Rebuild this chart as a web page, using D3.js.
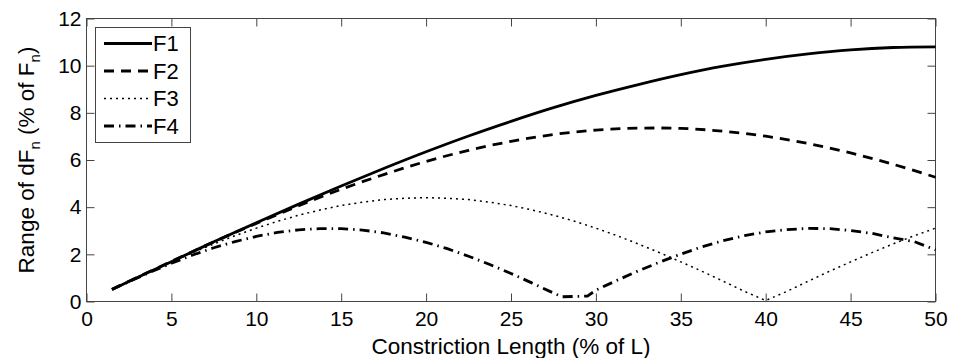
<!DOCTYPE html>
<html>
<head>
<meta charset="utf-8">
<script src="https://cdn.jsdelivr.net/npm/d3@7"></script>
<style>
  body { margin: 0; background: #fff; }
  svg { font-family: "Liberation Sans", Arial, sans-serif; }
</style>
</head>
<body>
<div id="chart"></div>
<script>
// values (x = constriction length in % of L)
var f1X = [1.5, 5, 7.5, 10, 12.5, 15, 17.5, 20, 22.5, 25, 27.5, 30, 32.5, 35, 37.5, 40, 42.5, 45, 47.5, 50];
var f1Y = [0.51, 1.69, 2.53, 3.34, 4.13, 4.90, 5.64, 6.35, 7.02, 7.64, 8.22, 8.74, 9.20, 9.62, 9.98, 10.27, 10.50, 10.67, 10.77, 10.80];

var f2X = [1.5, 5, 7.5, 10, 12.5, 15, 17.5, 20, 22.5, 25, 27.5, 30, 32.5, 35, 37.5, 40, 42.5, 45, 47.5, 50];
var f2Y = [0.52, 1.70, 2.53, 3.31, 4.06, 4.76, 5.38, 5.94, 6.41, 6.79, 7.08, 7.27, 7.35, 7.34, 7.22, 7.01, 6.70, 6.30, 5.82, 5.27];

var f3X = [1.5, 2.5, 3.75, 5, 6.25, 7.5, 8.75, 10, 11.25, 12.5, 13.75, 15, 16.25, 17.5, 18.75, 20,
           21.25, 22.5, 23.75, 25, 26.25, 27.5, 28.75, 30, 31.25, 32.5, 33.75, 35, 36.25, 37.5, 38.75, 40,
           41.25, 42.5, 43.75, 45, 46.25, 47.5, 48.75, 50];
var f3Y = [0.52, 0.86, 1.28, 1.68, 2.07, 2.44, 2.79, 3.11, 3.40, 3.66, 3.88, 4.07, 4.21, 4.32, 4.38, 4.40,
           4.38, 4.32, 4.21, 4.07, 3.88, 3.66, 3.40, 3.11, 2.79, 2.44, 2.07, 1.68, 1.28, 0.86, 0.43, 0.04,
           0.43, 0.86, 1.28, 1.68, 2.07, 2.44, 2.79, 3.11];

var f4X = [1.5, 2.5, 3.75, 5, 6.25, 7.5, 8.75, 10, 11.25, 12.5, 13.75, 15, 16.25, 17.5, 18.75, 20,
           21.25, 22.5, 23.75, 25, 26.25, 27.5, 28, 29.5, 30, 31.25, 32.5, 33.75, 35, 36.25, 37.5, 38.75, 40,
           41.25, 42.5, 43.75, 45, 46.25, 47.5, 48.75, 50];
var f4Y = [0.51, 0.84, 1.24, 1.62, 1.97, 2.28, 2.54, 2.76, 2.93, 3.04, 3.09, 3.09, 3.03, 2.91, 2.73, 2.51,
           2.24, 1.92, 1.57, 1.19, 0.78, 0.36, 0.20, 0.23, 0.48, 0.90, 1.30, 1.67, 2.01, 2.32, 2.58, 2.79, 2.95,
           3.05, 3.10, 3.09, 3.01, 2.89, 2.70, 2.54, 2.19];

var seriesNames = ["F1", "F2", "F3", "F4"];
var xTicks = [0, 5, 10, 15, 20, 25, 30, 35, 40, 45, 50];
var yTicks = [0, 2, 4, 6, 8, 10, 12];

var margin = {top: 18.5, right: 23.5, bottom: 56.5, left: 86.5},
    width = 959 - margin.left - margin.right,
    height = 358 - margin.top - margin.bottom;

var x = d3.scaleLinear().domain([0, 50]).range([0, width]);
var y = d3.scaleLinear().domain([0, 12]).range([height, 0]);

var svg = d3.select("#chart").append("svg")
    .attr("width", 959)
    .attr("height", 358);

var g = svg.append("g")
    .attr("transform", "translate(" + margin.left + "," + margin.top + ")");

// styles per series
var styles = [
  {width: 2.8, dash: null},
  {width: 2.8, dash: "10,7"},
  {width: 1.5, dash: "2,4"},
  {width: 2.8, dash: "10,5,1.5,5"}
];

var allX = [f1X, f2X, f3X, f4X];
var allY = [f1Y, f2Y, f3Y, f4Y];

var line = d3.line()
    .x(function(d) { return x(d[0]); })
    .y(function(d) { return y(d[1]); });

var smooth = d3.line()
    .curve(d3.curveCatmullRom)
    .x(function(d) { return x(d[0]); })
    .y(function(d) { return y(d[1]); });

// axes, ticks pointing inward on all four sides
var tickLen = 8;
var axisColor = "#444";

g.append("g")
    .attr("transform", "translate(0," + height + ")")
    .call(d3.axisBottom(x).tickValues(xTicks).tickSizeInner(-tickLen).tickSizeOuter(0).tickPadding(10));
g.append("g")
    .call(d3.axisLeft(y).tickValues(yTicks).tickSizeInner(-tickLen).tickSizeOuter(0).tickPadding(5));
g.append("g")
    .call(d3.axisTop(x).tickValues(xTicks).tickSizeInner(-tickLen).tickSizeOuter(0).tickFormat(""));
g.append("g")
    .attr("transform", "translate(" + width + ",0)")
    .call(d3.axisRight(y).tickValues(yTicks).tickSizeInner(-tickLen).tickSizeOuter(0).tickFormat(""));

g.selectAll(".domain").remove();
g.selectAll(".tick line").attr("stroke", axisColor);
g.selectAll(".tick text")
    .attr("fill", "#000")
    .style("font-size", "21px")
    .style("font-family", "Liberation Sans, Arial, sans-serif");

g.append("rect")
    .attr("x", 0).attr("y", 0)
    .attr("width", width).attr("height", height)
    .attr("fill", "none")
    .attr("stroke", axisColor)
    .attr("stroke-width", 1);

// the curves
for (var i = 0; i < 4; i++) {
  var pts = d3.zip(allX[i], allY[i]);
  g.append("path")
      .datum(pts)
      .attr("fill", "none")
      .attr("stroke", "#000")
      .attr("stroke-width", styles[i].width)
      .attr("stroke-dasharray", styles[i].dash)
      .attr("d", i < 2 ? smooth : line);
}

// legend
var leg = g.append("g").attr("transform", "translate(" + (95 - margin.left) + "," + (27 - margin.top) + ")");
leg.append("rect")
    .attr("x", 0.5).attr("y", 0.5)
    .attr("width", 95).attr("height", 115)
    .attr("fill", "#fff")
    .attr("stroke", axisColor);

seriesNames.forEach(function(name, i) {
  var ly = 16.5 + i * 27.5;
  leg.append("line")
      .attr("x1", 9).attr("x2", 57)
      .attr("y1", ly).attr("y2", ly)
      .attr("stroke", "#000")
      .attr("stroke-width", styles[i].width)
      .attr("stroke-dasharray", styles[i].dash);
  leg.append("text")
      .attr("x", 58).attr("y", ly)
      .attr("dy", "0.36em")
      .style("font-size", "22px")
      .text(name);
});

// axis titles
svg.append("text")
    .attr("x", margin.left + width / 2)
    .attr("y", 354)
    .attr("text-anchor", "middle")
    .style("font-size", "22.5px")
    .text("Constriction Length (% of L)");

var yt = svg.append("text")
    .attr("transform", "translate(34," + (margin.top + height / 2) + ") rotate(-90)")
    .attr("text-anchor", "middle")
    .style("font-size", "22.5px");
yt.append("tspan").text("Range of dF");
yt.append("tspan").attr("dy", 6).style("font-size", "15px").text("n");
yt.append("tspan").attr("dy", -6).text(" (% of F");
yt.append("tspan").attr("dy", 6).style("font-size", "15px").text("n");
yt.append("tspan").attr("dy", -6).text(")");
</script>
</body>
</html>
